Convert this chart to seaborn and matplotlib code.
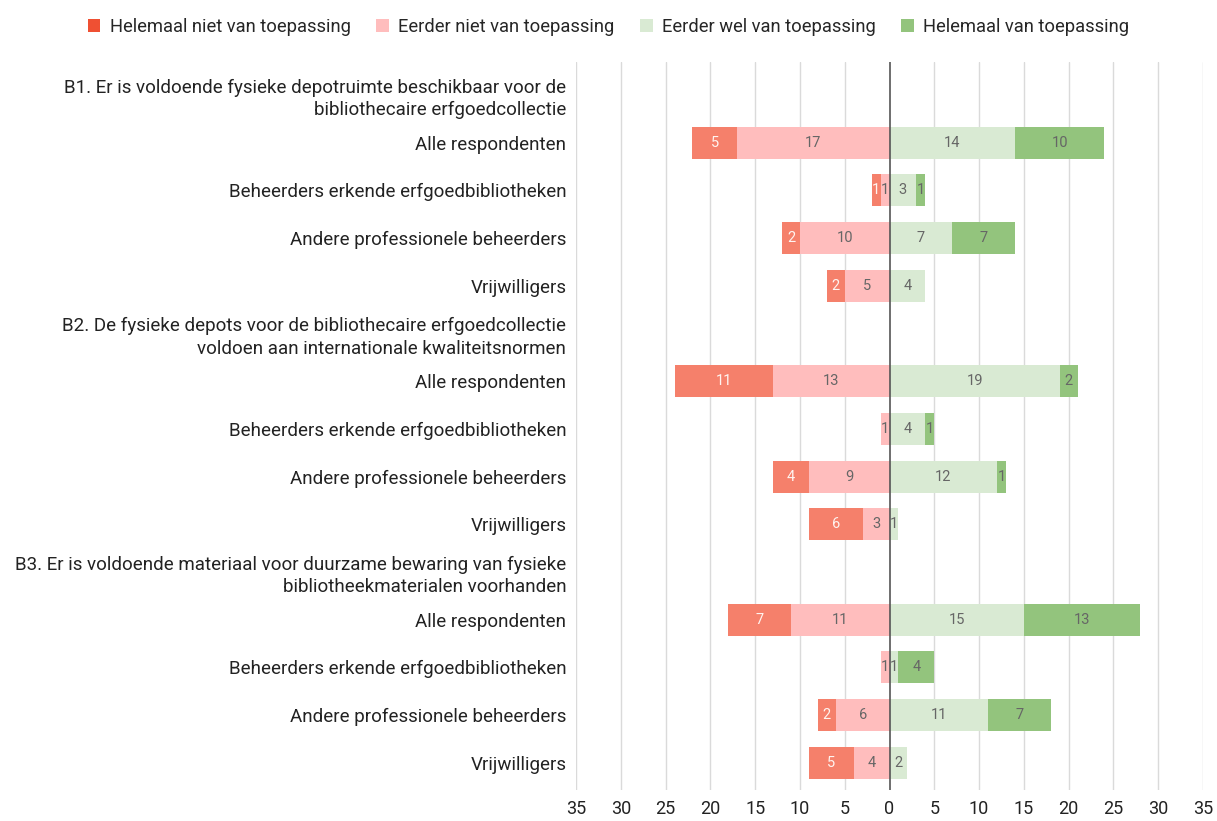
import matplotlib
matplotlib.use("Agg")
import matplotlib.pyplot as plt
from matplotlib.patches import Patch
import seaborn as sns
import numpy as np

sns.set_style("white")
plt.rcParams["font.family"] = ["Roboto", "DejaVu Sans"]

# rijen (vraag-kopjes + groepen)
row_labels = [
    "B1. Er is voldoende fysieke depotruimte beschikbaar voor de\nbibliothecaire erfgoedcollectie",
    "Alle respondenten",
    "Beheerders erkende erfgoedbibliotheken",
    "Andere professionele beheerders",
    "Vrijwilligers",
    "B2. De fysieke depots voor de bibliothecaire erfgoedcollectie\nvoldoen aan internationale kwaliteitsnormen",
    "Alle respondenten",
    "Beheerders erkende erfgoedbibliotheken",
    "Andere professionele beheerders",
    "Vrijwilligers",
    "B3. Er is voldoende materiaal voor duurzame bewaring van fysieke\nbibliotheekmaterialen voorhanden",
    "Alle respondenten",
    "Beheerders erkende erfgoedbibliotheken",
    "Andere professionele beheerders",
    "Vrijwilligers",
]

# aantallen per antwoordcategorie (kopjes = 0)
helemaal_niet = [0, 5, 1, 2, 2, 0, 11, 0, 4, 6, 0, 7, 0, 2, 5]
eerder_niet = [0, 17, 1, 10, 5, 0, 13, 1, 9, 3, 0, 11, 1, 6, 4]
eerder_wel = [0, 14, 3, 7, 4, 0, 19, 4, 12, 1, 0, 15, 1, 11, 2]
helemaal_wel = [0, 10, 1, 7, 0, 0, 2, 1, 1, 0, 0, 13, 4, 7, 0]

categories = ["Helemaal niet van toepassing", "Eerder niet van toepassing",
              "Eerder wel van toepassing", "Helemaal van toepassing"]
bar_colors = ["#F5806B", "#FFBDBD", "#D9EAD3", "#93C47D"]
legend_colors = ["#EF5033", "#FFBDBD", "#D9EAD3", "#93C47D"]
x_ticks = list(range(-35, 40, 5))

pos = np.arange(len(row_labels))
hn = np.array(helemaal_niet)
en = np.array(eerder_niet)
ew = np.array(eerder_wel)
hw = np.array(helemaal_wel)

fig = plt.figure(figsize=(12.17, 8.21), dpi=100)
ax = fig.add_axes([0.4733, 0.0378, 0.5152, 0.8867])

for x in x_ticks:
    if x != 0:
        ax.axvline(x, color="#dadada", lw=1, zorder=0)

bw = 0.67
# gestapeld: eerst totaal, dan binnenste deel erover
layers = [(-(hn + en), bar_colors[0], 2), (-en, bar_colors[1], 3),
          (ew + hw, bar_colors[3], 2), (ew, bar_colors[2], 3)]
for vals, col, z in layers:
    sns.barplot(x=vals, y=pos, orient="h", native_scale=True, width=bw,
                color=col, saturation=1, linewidth=0, edgecolor="none",
                ax=ax, zorder=z)

ax.axvline(0, color="#555555", lw=1.2, zorder=4)

# waardelabels
for i in range(len(pos)):
    segs = [(-(en[i] + hn[i] / 2), hn[i], "#fff4f0"),
            (-en[i] / 2, en[i], "#666666"),
            (ew[i] / 2, ew[i], "#666666"),
            (ew[i] + hw[i] / 2, hw[i], "#666666")]
    for cx, v, c in segs:
        if v > 0:
            ax.text(cx, pos[i], str(v), ha="center", va="center",
                    fontsize=10.5, color=c, zorder=5)

ax.set_xlim(-35, 35)
ax.set_ylim(14.57, -0.69)
ax.set_xticks(x_ticks)
ax.set_xticklabels([str(abs(x)) for x in x_ticks], fontsize=13, color="#222222")
ax.set_yticks(pos)
ax.set_yticklabels(row_labels, fontsize=13.5, color="#222222", linespacing=1.3)
ax.tick_params(axis="both", length=0)
ax.tick_params(axis="y", pad=7)
ax.tick_params(axis="x", pad=7)
ax.set_xlabel("")
ax.set_ylabel("")
for s in ax.spines.values():
    s.set_visible(False)

handles = [Patch(facecolor=c, edgecolor="none") for c in legend_colors]
fig.legend(handles, categories, loc="upper center", bbox_to_anchor=(0.5, 0.998),
           ncol=4, frameon=False, fontsize=13.2, handlelength=0.7,
           handleheight=0.7, handletextpad=0.5, columnspacing=1.4)

fig.savefig("out.png", dpi=100)
